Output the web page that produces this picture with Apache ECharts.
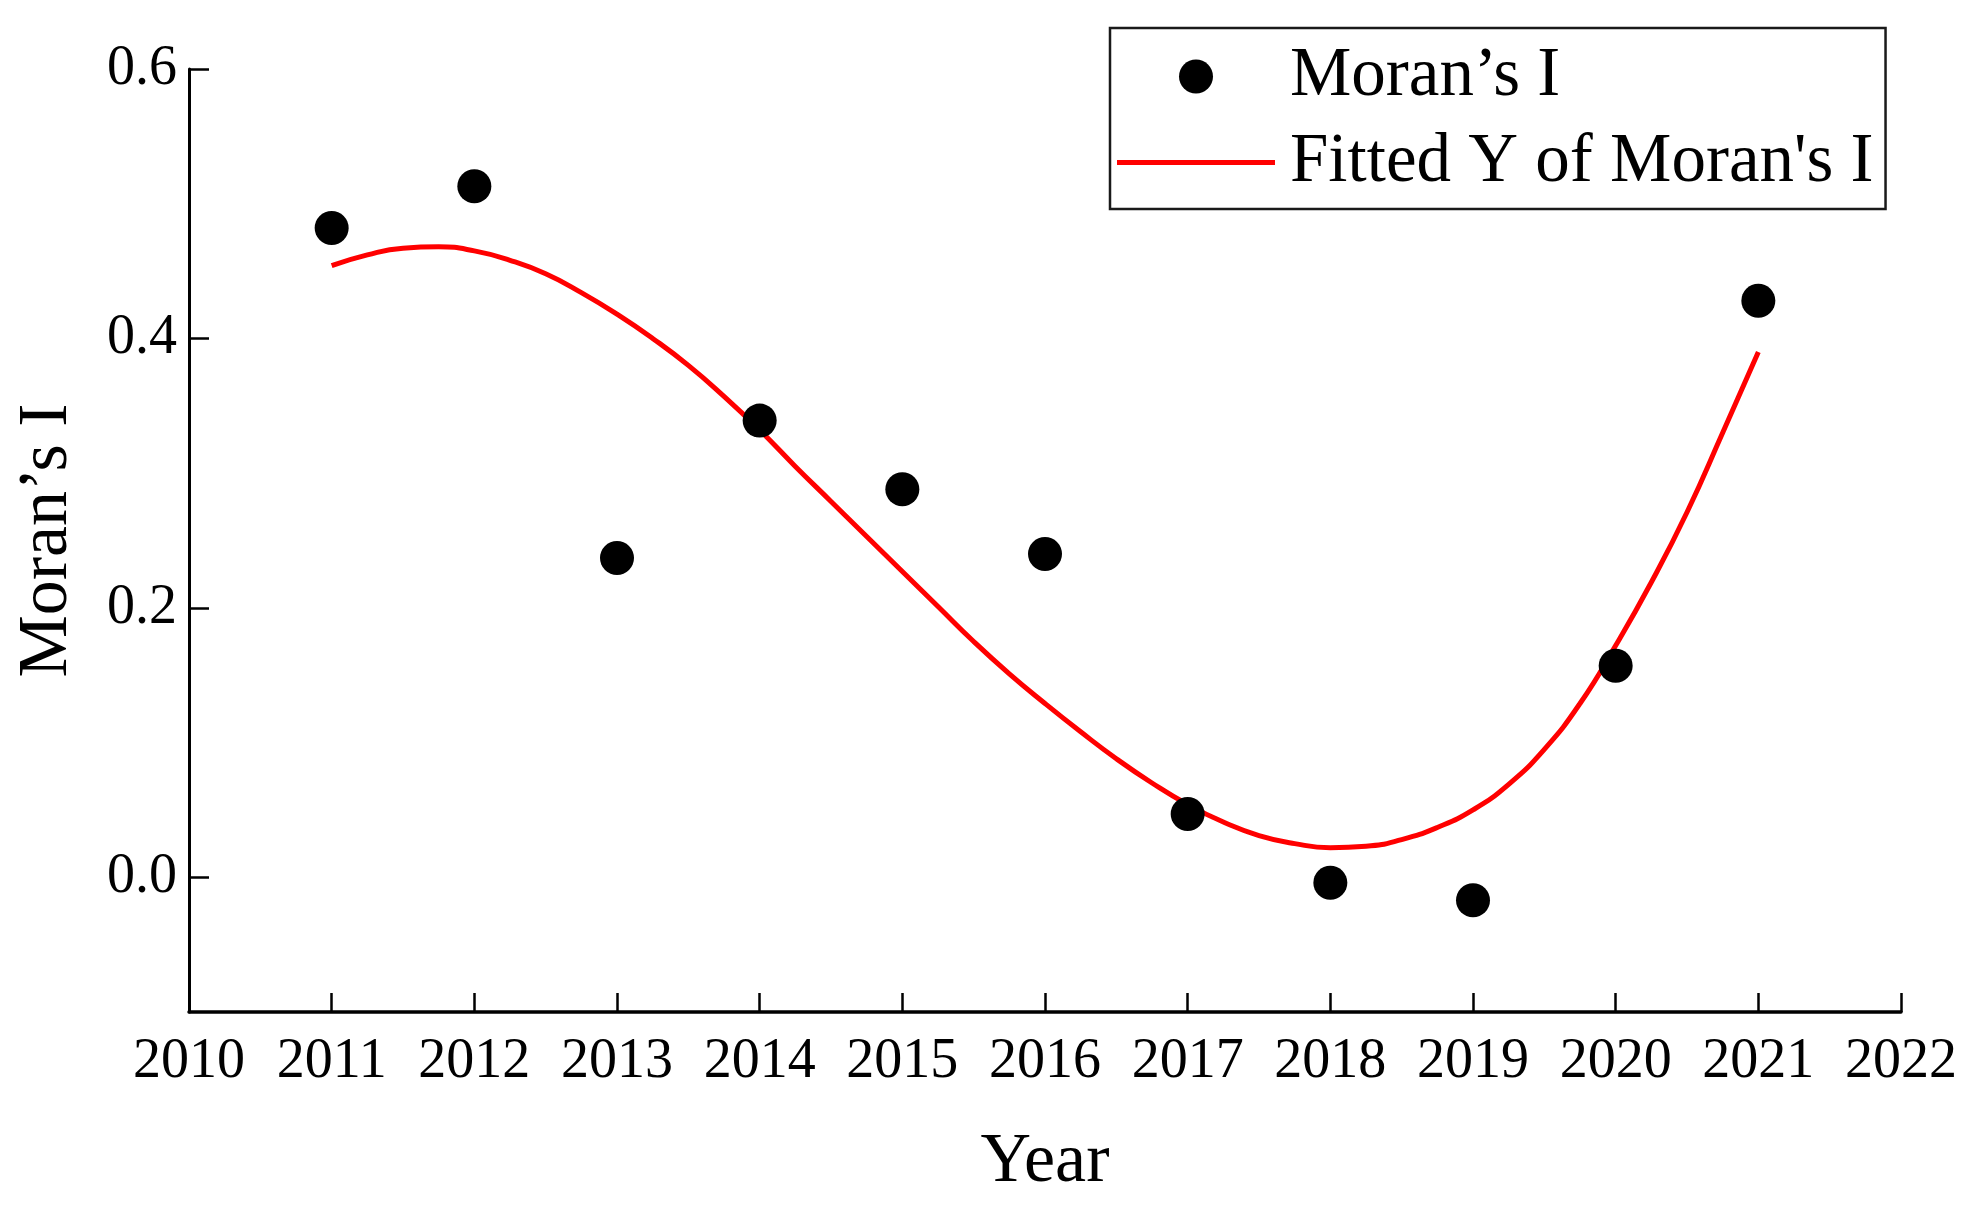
<!DOCTYPE html>
<html>
<head>
<meta charset="utf-8">
<script src="https://cdn.jsdelivr.net/npm/echarts@6/dist/echarts.min.js"></script>
<style>
html,body{margin:0;padding:0;background:#fff;}
#chart{width:1986px;height:1215px;}
</style>
</head>
<body>
<div id="chart"></div>
<script>
// Observed Moran's I by year
const years = [2011, 2012, 2013, 2014, 2015, 2016, 2017, 2018, 2019, 2020, 2021];
const moranI = [0.482, 0.513, 0.237, 0.339, 0.288, 0.240, 0.047, -0.004, -0.017, 0.157, 0.428];

// Fitted curve, every quarter year
const fitYears = [2011.00, 2011.25, 2011.50, 2011.75, 2012.00, 2012.25, 2012.50, 2012.75, 2013.00, 2013.25, 2013.50, 2013.75,
                  2014.00, 2014.25, 2014.50, 2014.75, 2015.00, 2015.25, 2015.50, 2015.75, 2016.00, 2016.25, 2016.50, 2016.75,
                  2017.00, 2017.25, 2017.50, 2017.75, 2018.00, 2018.25, 2018.50, 2018.75, 2019.00, 2019.25, 2019.50, 2019.75,
                  2020.00, 2020.25, 2020.50, 2020.75, 2021.00];
const fitValues = [0.454, 0.462, 0.467, 0.468, 0.465, 0.458, 0.448, 0.434, 0.418, 0.400, 0.380, 0.357,
                   0.332, 0.305, 0.279, 0.253, 0.227, 0.201, 0.175, 0.151, 0.129, 0.108, 0.088, 0.070,
                   0.054, 0.041, 0.031, 0.025, 0.022, 0.023, 0.028, 0.037, 0.050, 0.069, 0.095, 0.129,
                   0.172, 0.219, 0.271, 0.330, 0.390];

const yTickValues = [0, 0.2, 0.4, 0.6];
const xName = 'Year';
const yName = 'Moran\u2019s I';
const seriesNames = ['Moran\u2019s I', "Fitted Y of Moran's I"];

const FONT = '"Liberation Serif", "Times New Roman", serif';

const chart = echarts.init(document.getElementById('chart'), null, {renderer: 'canvas'});
chart.setOption({
  backgroundColor: '#ffffff',
  animation: false,
  textStyle: {fontFamily: FONT, color: '#000'},
  grid: {left: 189, right: 85, top: 69, bottom: 203, containLabel: false},
  legend: {
    orient: 'vertical',
    left: 1110,
    top: 28,
    padding: [14, 12, 12, 7],
    itemGap: 17,
    itemWidth: 158,
    itemHeight: 34,
    symbolKeepAspect: true,
    borderColor: '#1a1a1a',
    borderWidth: 2.5,
    backgroundColor: '#fff',
    textStyle: {fontFamily: FONT, fontSize: 69, color: '#000', padding: [0, 0, 0, 10]},
    data: [
      {name: seriesNames[0], icon: 'circle', itemStyle: {color: '#000', opacity: 1}},
      {name: seriesNames[1], icon: 'path://M0,0H158V5H0Z', itemStyle: {color: '#ff0000', opacity: 1}}
    ]
  },
  xAxis: {
    type: 'value',
    min: 2010,
    max: 2022,
    interval: 1,
    name: xName,
    nameLocation: 'middle',
    nameGap: 116,
    nameTextStyle: {fontFamily: FONT, fontSize: 70, color: '#000'},
    axisLine: {show: true, onZero: false, lineStyle: {color: '#000', width: 3.5}},
    axisTick: {show: true, inside: true, length: 19, lineStyle: {color: '#000', width: 2.5}},
    axisLabel: {fontFamily: FONT, fontSize: 56, color: '#000', margin: 22, formatter: v => String(v)},
    splitLine: {show: false}
  },
  yAxis: {
    type: 'value',
    min: -0.1,
    max: 0.6,
    interval: 0.1,
    name: yName,
    nameLocation: 'middle',
    nameGap: 106,
    nameTextStyle: {fontFamily: FONT, fontSize: 70, color: '#000'},
    axisLine: {show: true, onZero: false, lineStyle: {color: '#000', width: 3}},
    axisTick: {show: true, inside: true, length: 20, customValues: yTickValues, lineStyle: {color: '#000', width: 2.5}},
    axisLabel: {fontFamily: FONT, fontSize: 56, color: '#000', margin: 12, customValues: yTickValues, formatter: v => Number(v).toFixed(1)},
    splitLine: {show: false}
  },
  series: [
    {
      name: seriesNames[0],
      type: 'scatter',
      symbol: 'circle',
      symbolSize: 34,
      itemStyle: {color: '#000', opacity: 1},
      data: years.map((y, i) => [y, moranI[i]]),
      z: 3
    },
    {
      name: seriesNames[1],
      type: 'line',
      smooth: 0.5,
      symbol: 'none',
      showSymbol: false,
      lineStyle: {color: '#ff0000', width: 5},
      itemStyle: {color: '#ff0000'},
      data: fitYears.map((y, i) => [y, fitValues[i]]),
      z: 2
    }
  ]
});
</script>
</body>
</html>
